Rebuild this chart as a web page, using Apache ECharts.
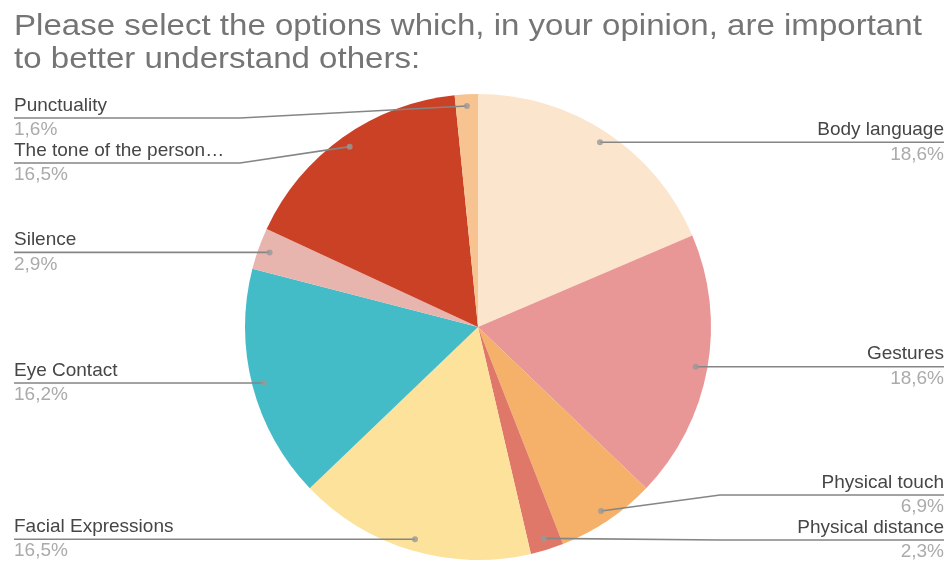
<!DOCTYPE html>
<html>
<head>
<meta charset="utf-8">
<script src="https://cdn.jsdelivr.net/npm/echarts@6/dist/echarts.min.js"></script>
<style>
  html, body { margin: 0; padding: 0; background: #fff; }
  #chart { width: 951px; height: 562px; }
</style>
</head>
<body>
<div id="chart"></div>
<script>
// Survey answers, in clockwise order starting at 12 o'clock
const categories = [
  'Body language', 'Gestures', 'Physical touch', 'Physical distance',
  'Facial Expressions', 'Eye Contact', 'Silence',
  'The tone of the person…', 'Punctuality'
];
const shares = [18.6, 18.6, 6.9, 2.3, 16.5, 16.2, 2.9, 16.5, 1.6];
const titleLines = [
  'Please select the options which, in your opinion, are important',
  'to better understand others:'
];

// Slice palette
const palette = ['#fce5cd', '#e89696', '#f5b06a', '#e0786a', '#fde29b',
                 '#44bcc7', '#e7b4ae', '#cb4126', '#f7c491'];

// Geometry of the pie (pixels)
const CX = 478, CY = 327, R = 233;
const DOT_R = 0.95;           // marker distance, as a fraction of the radius
const LEFT_X = 14, RIGHT_X = 944;
const LEFT_BEND = 240, RIGHT_BEND = 720;
const GAP = 45, TOP_LIMIT = 118, BOTTOM_LIMIT = 540;
const FONT = 'Liberation Sans, Arial, sans-serif';

const total = shares.reduce((a, b) => a + b, 0);
const mids = [];
let acc = 0;
shares.forEach(v => { mids.push(acc + v / 2); acc += v; });

// Marker position of each slice, then place label rows avoiding overlaps
const guides = mids.map((m, i) => {
  const a = m / total * Math.PI * 2;
  const x = CX + R * DOT_R * Math.sin(a);
  const y = CY - R * DOT_R * Math.cos(a);
  return { i, x, y, left: x < CX, rowY: y };
});
function spread(list) {
  list.sort((p, q) => p.y - q.y);
  let prev = -Infinity;
  list.forEach(g => { g.rowY = Math.max(g.y, TOP_LIMIT, prev + GAP); prev = g.rowY; });
  let next = Infinity;
  for (let k = list.length - 1; k >= 0; k--) {
    const g = list[k];
    g.rowY = Math.min(g.rowY, BOTTOM_LIMIT, next - GAP);
    next = g.rowY;
  }
}
spread(guides.filter(g => g.left));
spread(guides.filter(g => !g.left));

const fmtPct = v => v.toFixed(1).replace('.', ',') + '%';
const pieData = colorFn => categories.map((name, i) => ({
  name, value: shares[i], itemStyle: { color: colorFn(i) }
}));

const chart = echarts.init(document.getElementById('chart'), null, { renderer: 'canvas' });
chart.setOption({
  animation: false,
  backgroundColor: '#ffffff',
  graphic: [{
    type: 'text',
    x: 14,
    y: 10,
    scaleX: 1.14,
    originX: 0,
    silent: true,
    style: {
      text: titleLines.join('\n'),
      font: 'normal 29px ' + FONT,
      lineHeight: 33,
      fill: '#757575'
    }
  }],
  polar: { center: [CX, CY], radius: R },
  angleAxis: { type: 'value', min: 0, max: total, startAngle: 90, clockwise: true, show: false },
  radiusAxis: { type: 'value', min: 0, max: 1, show: false },
  series: [
    {
      // filled slices
      type: 'pie',
      z: 2,
      center: [CX, CY],
      radius: R,
      startAngle: 90,
      clockwise: true,
      silent: true,
      itemStyle: { borderWidth: 0 },
      label: { show: false },
      labelLine: { show: false },
      data: pieData(i => palette[i])
    },
    {
      // same slices, transparent, carrying labels and guide lines on top
      type: 'pie',
      z: 3,
      center: [CX, CY],
      radius: R,
      startAngle: 90,
      clockwise: true,
      silent: true,
      avoidLabelOverlap: false,
      itemStyle: { borderWidth: 0 },
      data: pieData(() => 'rgba(0,0,0,0)'),
      label: {
        show: true,
        position: 'outside',
        fontFamily: FONT,
        formatter: p => '{n|' + p.name + '}\n{p|' + fmtPct(shares[p.dataIndex]) + '}',
        rich: {
          n: { fontSize: 19, lineHeight: 25, color: '#464646', fontFamily: FONT },
          p: { fontSize: 19, lineHeight: 24, color: '#ababab', fontFamily: FONT }
        }
      },
      labelLine: {
        show: true,
        lineStyle: { color: '#858585', width: 1.6 }
      },
      labelLayout: params => {
        const g = guides[params.dataIndex];
        const endX = g.left ? LEFT_X : RIGHT_X;
        const bendX = g.left ? LEFT_BEND : RIGHT_BEND;
        return {
          x: endX,
          y: g.rowY - 25,
          align: g.left ? 'left' : 'right',
          verticalAlign: 'top',
          labelLinePoints: [[g.x, g.y], [bendX, g.rowY], [endX, g.rowY]]
        };
      }
    },
    {
      type: 'scatter',
      coordinateSystem: 'polar',
      z: 5,
      symbolSize: 6,
      silent: true,
      itemStyle: { color: '#999999' },
      data: mids.map(m => [DOT_R, m])
    }
  ]
});
</script>
</body>
</html>
